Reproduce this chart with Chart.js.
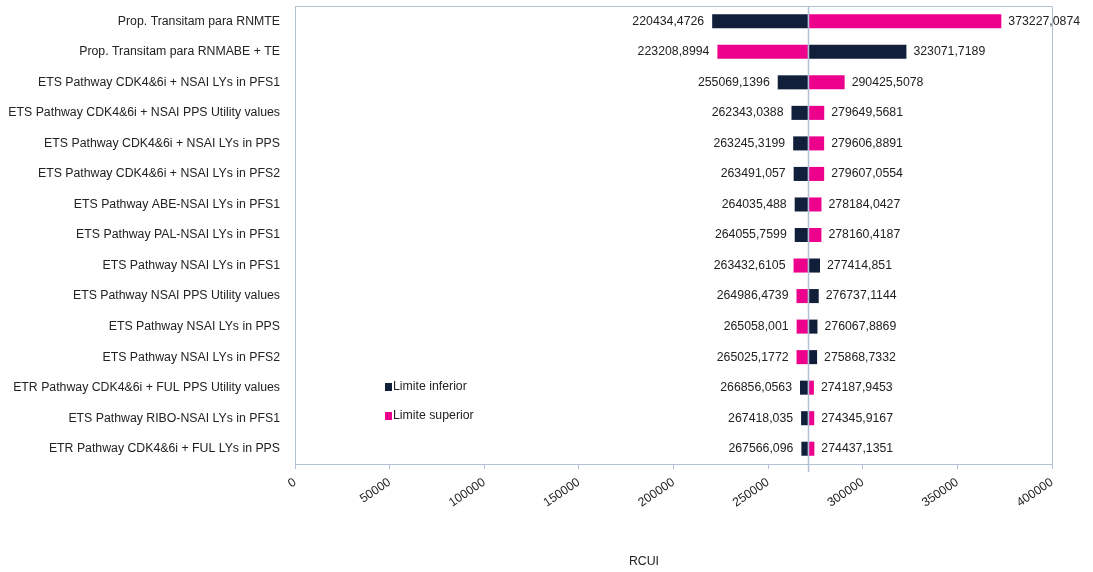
<!DOCTYPE html>
<html><head><meta charset="utf-8">
<script src="https://cdn.jsdelivr.net/npm/chart.js@4.4.1/dist/chart.umd.min.js"></script>
<style>html,body{margin:0;padding:0;background:#fff}#wrap{width:1093px;height:572px;position:relative}</style>
</head><body><div id="wrap"><canvas id="c" width="1093" height="572"></canvas></div>
<script>
const categories = [
  'Prop. Transitam para RNMTE',
  'Prop. Transitam para RNMABE + TE',
  'ETS Pathway CDK4&6i + NSAI LYs in PFS1',
  'ETS Pathway CDK4&6i + NSAI PPS Utility values',
  'ETS Pathway CDK4&6i + NSAI LYs in PPS',
  'ETS Pathway CDK4&6i + NSAI LYs in PFS2',
  'ETS Pathway ABE-NSAI LYs in PFS1',
  'ETS Pathway PAL-NSAI LYs in PFS1',
  'ETS Pathway NSAI LYs in PFS1',
  'ETS Pathway NSAI PPS Utility values',
  'ETS Pathway NSAI LYs in PPS',
  'ETS Pathway NSAI LYs in PFS2',
  'ETR Pathway CDK4&6i + FUL PPS Utility values',
  'ETS Pathway RIBO-NSAI LYs in PFS1',
  'ETR Pathway CDK4&6i + FUL LYs in PPS'
];
const lowerLimit = [
  220434.4726, 323071.7189, 255069.1396, 262343.0388, 263245.3199,
  263491.057, 264035.488, 264055.7599, 277414.851, 276737.1144,
  276067.8869, 275868.7332, 266856.0563, 267418.035, 267566.096
];
const upperLimit = [
  373227.0874, 223208.8994, 290425.5078, 279649.5681, 279606.8891,
  279607.0554, 278184.0427, 278160.4187, 263432.6105, 264986.4739,
  265058.001, 265025.1772, 274187.9453, 274345.9167, 274437.1351
];
const baseValue = 271000;
const xTickValues = [0, 50000, 100000, 150000, 200000, 250000, 300000, 350000, 400000];
const seriesNames = ['Limite inferior', 'Limite superior'];
const axisTitle = 'RCUI';

function hasFont(f){
  const c = document.createElement('canvas').getContext('2d');
  const s = 'ETS Pathway CDK4&6i + NSAI 0123456789';
  c.font = '20px monospace'; const a = c.measureText(s).width;
  c.font = '20px "' + f + '", monospace'; const b = c.measureText(s).width;
  return a !== b;
}
const NARROW = hasFont('Liberation Sans Narrow');
const FAMILY = NARROW ? '"Liberation Sans Narrow", "Liberation Sans", Arial, sans-serif' : '"Liberation Sans", Arial, sans-serif';
const FS = NARROW ? 15 : 12.3;

const NAVY = '#111f3b', PINK = '#ec008c', FRAME = '#b3c0d6', TXT = '#222222';
const fmt = v => String(v).replace('.', ',');

const overlay = {
  id: 'overlay',
  beforeDatasetsDraw(chart){
    const {ctx, chartArea: a} = chart;
    ctx.save();
    ctx.strokeStyle = FRAME; ctx.lineWidth = 1;
    ctx.beginPath();
    ctx.moveTo(a.left + 0.5, a.bottom); ctx.lineTo(a.left + 0.5, a.top + 0.5);
    ctx.lineTo(a.right + 0.5, a.top + 0.5); ctx.lineTo(a.right + 0.5, a.bottom);
    ctx.stroke();
    ctx.restore();
  },
  afterDatasetsDraw(chart){
    const {ctx, chartArea: a, scales: {x, y}} = chart;
    ctx.save();
    const bx = Math.round(x.getPixelForValue(baseValue)) + 0.5;
    ctx.strokeStyle = FRAME; ctx.lineWidth = 1.5;
    ctx.beginPath(); ctx.moveTo(bx, a.top); ctx.lineTo(bx, a.bottom + 8); ctx.stroke();
    ctx.font = FS + 'px ' + FAMILY; ctx.fillStyle = TXT; ctx.textBaseline = 'middle';
    categories.forEach((c, i) => {
      const lo = Math.min(lowerLimit[i], upperLimit[i]);
      const hi = Math.max(lowerLimit[i], upperLimit[i]);
      const yy = y.getPixelForValue(i);
      ctx.textAlign = 'right'; ctx.fillText(fmt(lo), x.getPixelForValue(lo) - 8, yy);
      ctx.textAlign = 'left'; ctx.fillText(fmt(hi), x.getPixelForValue(hi) + 7, yy);
    });
    // legend
    const colors = [NAVY, PINK];
    const ly = [387, 416];
    seriesNames.forEach((n, k) => {
      ctx.fillStyle = colors[k];
      ctx.fillRect(385, ly[k] - 4, 7, 8);
      ctx.fillStyle = TXT; ctx.textAlign = 'left';
      ctx.fillText(n, 393, ly[k]);
    });
    // axis title
    ctx.textAlign = 'center';
    ctx.fillText(axisTitle, 644, 562);
    ctx.restore();
  }
};

new Chart(document.getElementById('c'), {
  type: 'bar',
  data: {
    labels: categories,
    datasets: [
      { label: seriesNames[0], data: lowerLimit.map(v => [baseValue, v]), backgroundColor: NAVY,
        grouped: false, barPercentage: 0.46, categoryPercentage: 1 },
      { label: seriesNames[1], data: upperLimit.map(v => [baseValue, v]), backgroundColor: PINK,
        grouped: false, barPercentage: 0.46, categoryPercentage: 1 }
    ]
  },
  options: {
    indexAxis: 'y', responsive: false, animation: false,
    layout: { padding: { top: 6, right: 41, left: 0, bottom: 0 } },
    plugins: { legend: { display: false }, tooltip: { enabled: false } },
    scales: {
      x: {
        min: 0, max: 400000,
        afterBuildTicks(s){ s.ticks = xTickValues.map(v => ({ value: v })); },
        ticks: { minRotation: 34, maxRotation: 34, color: TXT, padding: 6,
                 font: { family: FAMILY, size: FS }, callback: v => String(v) },
        grid: { drawOnChartArea: false, drawTicks: true, tickLength: 5, color: FRAME },
        border: { color: FRAME },
        afterFit(s){ s.height = 108; s.paddingLeft = 0; s.paddingRight = 0; }
      },
      y: {
        ticks: { color: TXT, padding: 15, font: { family: FAMILY, size: FS } },
        grid: { display: false, drawTicks: false },
        border: { color: FRAME },
        afterFit(s){ s.width = 295; s.paddingTop = 0; s.paddingBottom = 0; }
      }
    }
  },
  plugins: [overlay]
});
</script>
</body></html>
